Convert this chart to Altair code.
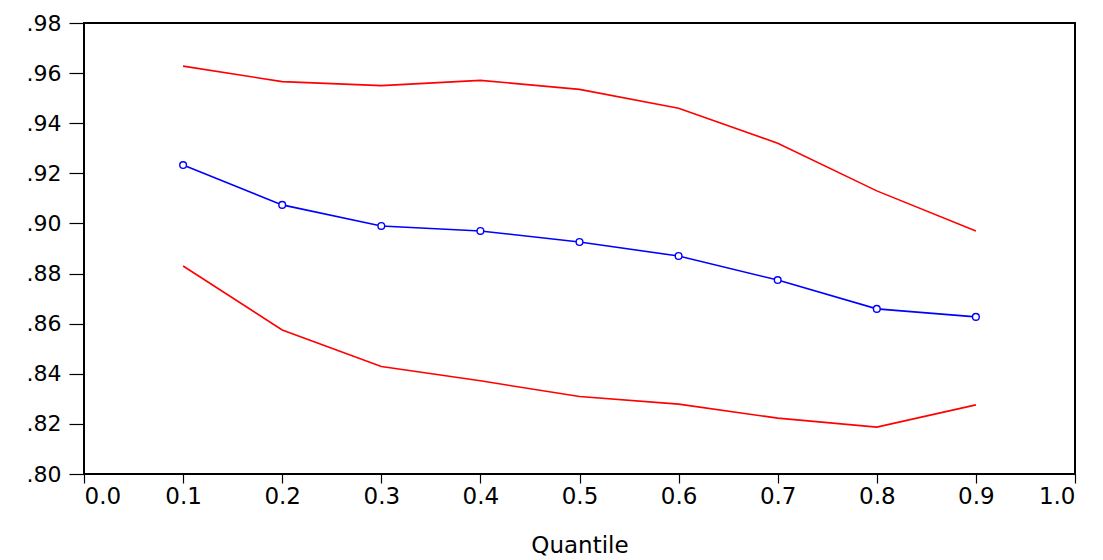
import altair as alt
import pandas as pd

quantiles = [0.1, 0.2, 0.3, 0.4, 0.5, 0.6, 0.7, 0.8, 0.9]
estimate = [0.9233, 0.9074, 0.8990, 0.8970, 0.8926, 0.8870, 0.8774, 0.8659, 0.8627]
upper = [0.9628, 0.9566, 0.9550, 0.9571, 0.9535, 0.9460, 0.9320, 0.9130, 0.8970]
lower = [0.8830, 0.8575, 0.8429, 0.8372, 0.8309, 0.8279, 0.8223, 0.8187, 0.8276]

x_ticks = [0.0, 0.1, 0.2, 0.3, 0.4, 0.5, 0.6, 0.7, 0.8, 0.9, 1.0]
y_ticks = [0.80, 0.82, 0.84, 0.86, 0.88, 0.90, 0.92, 0.94, 0.96, 0.98]

df = pd.DataFrame({"q": quantiles, "est": estimate, "up": upper, "lo": lower})

FONT = "DejaVu Sans"

xscale = alt.Scale(domain=[0, 1], nice=False, zero=False)
yscale = alt.Scale(domain=[0.80, 0.98], nice=False, zero=False)

xaxis = alt.Axis(values=x_ticks, format=".1f", title="Quantile", grid=False,
                 tickSize=9, tickColor="black", tickWidth=1.2, domain=False,
                 labelFont=FONT, labelFontSize=23, labelColor="black", labelPadding=2,
                 titleFont=FONT, titleFontSize=23, titleFontWeight="normal",
                 titleColor="black", titlePadding=26)
yaxis = alt.Axis(values=y_ticks, labelExpr="substring(format(datum.value, '.2f'), 1)",
                 title=None, grid=False, tickSize=15, tickColor="black", tickWidth=1.2,
                 domain=False, labelFont=FONT, labelFontSize=22, labelColor="black",
                 labelPadding=8)

base = alt.Chart(df)

upper_line = base.mark_line(color="#ff0000", strokeWidth=1.6).encode(
    x=alt.X("q:Q", scale=xscale, axis=xaxis),
    y=alt.Y("up:Q", scale=yscale, axis=yaxis),
)
lower_line = base.mark_line(color="#ff0000", strokeWidth=1.6).encode(
    x=alt.X("q:Q", scale=xscale),
    y=alt.Y("lo:Q", scale=yscale),
)
est_line = base.mark_line(color="#0000ff", strokeWidth=1.6).encode(
    x=alt.X("q:Q", scale=xscale),
    y=alt.Y("est:Q", scale=yscale),
)
est_pts = base.mark_point(shape="circle", filled=True, fill="white", stroke="#0000ff",
                          strokeWidth=1.4, size=45, opacity=1).encode(
    x=alt.X("q:Q", scale=xscale),
    y=alt.Y("est:Q", scale=yscale),
)

chart = alt.layer(upper_line, lower_line, est_line, est_pts).properties(
    width=991, height=451,
    autosize=alt.AutoSizeParams(type="none"),
    padding={"left": 84, "top": 23, "right": 28, "bottom": 86},
    background="white",
).configure_view(stroke="black", strokeWidth=2)

chart.save("out.html", embed_options={"renderer": "svg", "actions": False})
